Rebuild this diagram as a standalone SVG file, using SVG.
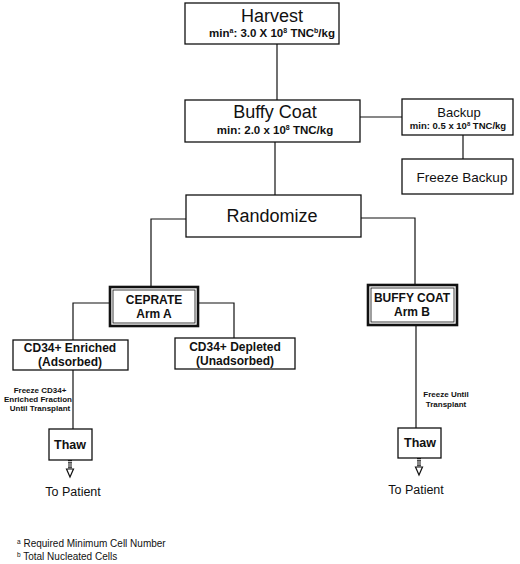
<svg xmlns="http://www.w3.org/2000/svg" width="520" height="564" viewBox="0 0 520 564">
<style>
text{font-family:"Liberation Sans",Arial,sans-serif;fill:#111;text-anchor:middle}
.box{fill:#fff;stroke:#111;stroke-width:1.3}
.dbl{fill:#fff;stroke:#111;stroke-width:2.6}
.inner{fill:none;stroke:#111;stroke-width:0.8}
.ln{fill:none;stroke:#111;stroke-width:1.2}
.big{font-size:18px}
.sub{font-size:11.5px;font-weight:bold}
.mid{font-size:12px;font-weight:bold}
.note{font-size:8px;font-weight:bold}
.reg{font-size:12.5px}
.fn{font-size:10px;text-anchor:start}
</style>
<defs>
<g id="arrow">
<line x1="0" y1="0" x2="0" y2="10" stroke="#111" stroke-width="4" stroke-dasharray="1.2,1"/>
<polygon points="-3.5,9 3.5,9 0,17" fill="#fff" stroke="#111" stroke-width="1.2"/>
</g>
</defs>
<rect width="520" height="564" fill="#fff"/>
<g id="connectors">
<path class="ln" d="M277,44 V100"/>
<path class="ln" d="M360,117 H402"/>
<path class="ln" d="M463,135 V159"/>
<path class="ln" d="M275,142 V195"/>
<path class="ln" d="M186,219 H151 V286"/>
<path class="ln" d="M361,218 H415 V284"/>
<path class="ln" d="M109,303 H73 V340"/>
<path class="ln" d="M199,303 H234 V339"/>
<path class="ln" d="M73,370 V429"/>
<path class="ln" d="M416,326 V428"/>
<use href="#arrow" x="70" y="460"/>
<use href="#arrow" x="419" y="458"/>
</g>
<g id="harvest">
<rect class="box" x="185" y="3" width="154" height="41"/>
<text class="big" x="272" y="22">Harvest</text>
<text class="sub" x="272" y="37">min<tspan font-size="7" dy="-4">a</tspan><tspan dy="4">: 3.0 X 10</tspan><tspan font-size="7" dy="-4">8</tspan><tspan dy="4"> TNC</tspan><tspan font-size="7" dy="-4">b</tspan><tspan dy="4">/kg</tspan></text>
</g>
<g id="buffycoat">
<rect class="box" x="185" y="100" width="175" height="42"/>
<text class="big" x="275" y="118">Buffy Coat</text>
<text class="sub" x="275" y="134">min: 2.0 x 10<tspan font-size="7" dy="-4">8</tspan><tspan dy="4"> TNC/kg</tspan></text>
</g>
<g id="backup">
<rect class="box" x="402" y="99" width="111" height="36"/>
<text x="459" y="117" font-size="13">Backup</text>
<text x="458" y="129" font-size="9.5" font-weight="bold">min: 0.5 x 10<tspan font-size="6" dy="-3">8</tspan><tspan dy="3"> TNC/kg</tspan></text>
</g>
<g id="freezebackup">
<rect class="box" x="402" y="159" width="111" height="35"/>
<text x="462" y="182" font-size="13.5">Freeze Backup</text>
</g>
<g id="randomize">
<rect class="box" x="186" y="195" width="175" height="42"/>
<text class="big" x="272" y="222">Randomize</text>
</g>
<g id="ceprate">
<rect class="dbl" x="110" y="287" width="88" height="39"/>
<rect class="inner" x="113" y="290" width="82" height="33"/>
<text class="mid" x="154" y="304">CEPRATE</text>
<text class="mid" x="154" y="318">Arm A</text>
</g>
<g id="buffyarmb">
<rect class="dbl" x="368" y="285" width="89" height="40"/>
<rect class="inner" x="371" y="288" width="83" height="34"/>
<text class="mid" x="412" y="302">BUFFY COAT</text>
<text class="mid" x="412" y="316">Arm B</text>
</g>
<g id="enriched">
<rect class="box" x="13" y="340" width="115" height="30"/>
<text class="mid" x="70" y="352">CD34+ Enriched</text>
<text class="mid" x="70" y="366">(Adsorbed)</text>
</g>
<g id="depleted">
<rect class="box" x="175" y="338" width="120" height="31"/>
<text class="mid" x="235" y="351">CD34+ Depleted</text>
<text class="mid" x="235" y="365">(Unadsorbed)</text>
</g>
<g id="freezeA">
<text class="note" x="40" y="393">Freeze CD34+</text>
<text class="note" x="38" y="402">Enriched Fraction</text>
<text class="note" x="40" y="411">Until Transplant</text>
</g>
<g id="thawA">
<rect class="box" x="49" y="429" width="43" height="31"/>
<text x="70" y="449" font-size="12.5" font-weight="bold">Thaw</text>
</g>
<g id="patientA">
<text class="reg" x="73" y="496">To Patient</text>
</g>
<g id="freezeB">
<text class="note" x="446" y="397">Freeze Until</text>
<text class="note" x="446" y="407">Transplant</text>
</g>
<g id="thawB">
<rect class="box" x="398" y="428" width="43" height="30"/>
<text x="420" y="447" font-size="12.5" font-weight="bold">Thaw</text>
</g>
<g id="patientB">
<text class="reg" x="416" y="494">To Patient</text>
</g>
<g id="footnotes">
<text class="fn" x="17" y="547"><tspan font-size="6.5" dy="-3">a</tspan><tspan dy="3"> Required Minimum Cell Number</tspan></text>
<text class="fn" x="17" y="560"><tspan font-size="6.5" dy="-3">b</tspan><tspan dy="3"> Total Nucleated Cells</tspan></text>
</g>
</svg>
